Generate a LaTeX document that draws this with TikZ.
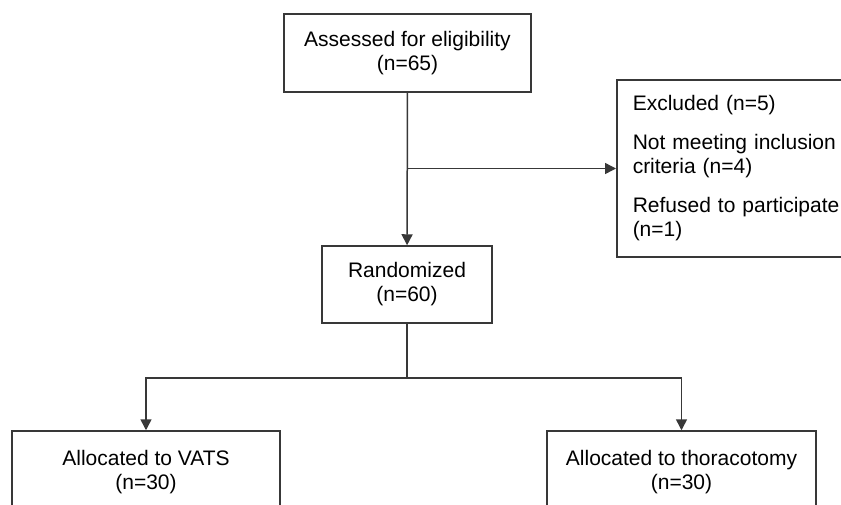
\documentclass[tikz,border=0pt]{standalone}
\usepackage{fontspec}
\setmainfont{Liberation Sans}
\usetikzlibrary{arrows.meta}
\definecolor{linegray}{HTML}{383838}
\tikzset{
  box/.style={draw=linegray, line width=1.5pt, rectangle, align=center,
    font=\fontsize{21}{24}\selectfont, inner sep=0pt, text=black},
  conn/.style={draw=linegray, line width=1.5pt},
  arr/.style={conn, -{Triangle[length=11pt,width=11pt]}}
}
\begin{document}
\begin{tikzpicture}[x=1pt,y=-1pt]
\clip (0,0) rectangle (841,504);
\fill[white] (0,0) rectangle (841,504);
\node[box, minimum width=247pt, minimum height=78pt] (assess) at (407.5,53) {Assessed for eligibility\\(n=65)};
\node[box, minimum width=170pt, minimum height=77pt] (rand) at (407,284.5) {Randomized\\(n=60)};
\node[box, anchor=west, align=left, text width=230pt, inner xsep=16pt, minimum height=177pt] (excl) at (616,168.5)
  {Excluded (n=5)\\[15pt]Not meeting inclusion\\criteria (n=4)\\[15pt]Refused to participate\\(n=1)};
\node[box, minimum width=268pt, minimum height=82pt] (vats) at (146,472) {Allocated to VATS\\(n=30)};
\node[box, minimum width=269pt, minimum height=82pt] (thor) at (681.5,472) {Allocated to thoracotomy\\(n=30)};
\coordinate (br) at (407,168.5);
\coordinate (split) at (407,378);
\draw[arr] (assess) -- (rand);
\draw[arr] (br) -- (br -| excl.west);
\draw[conn] (rand.south) -- (split);
\draw[arr] (split) -| (vats.north);
\draw[arr] (split) -| (thor.north);
\end{tikzpicture}
\end{document}
